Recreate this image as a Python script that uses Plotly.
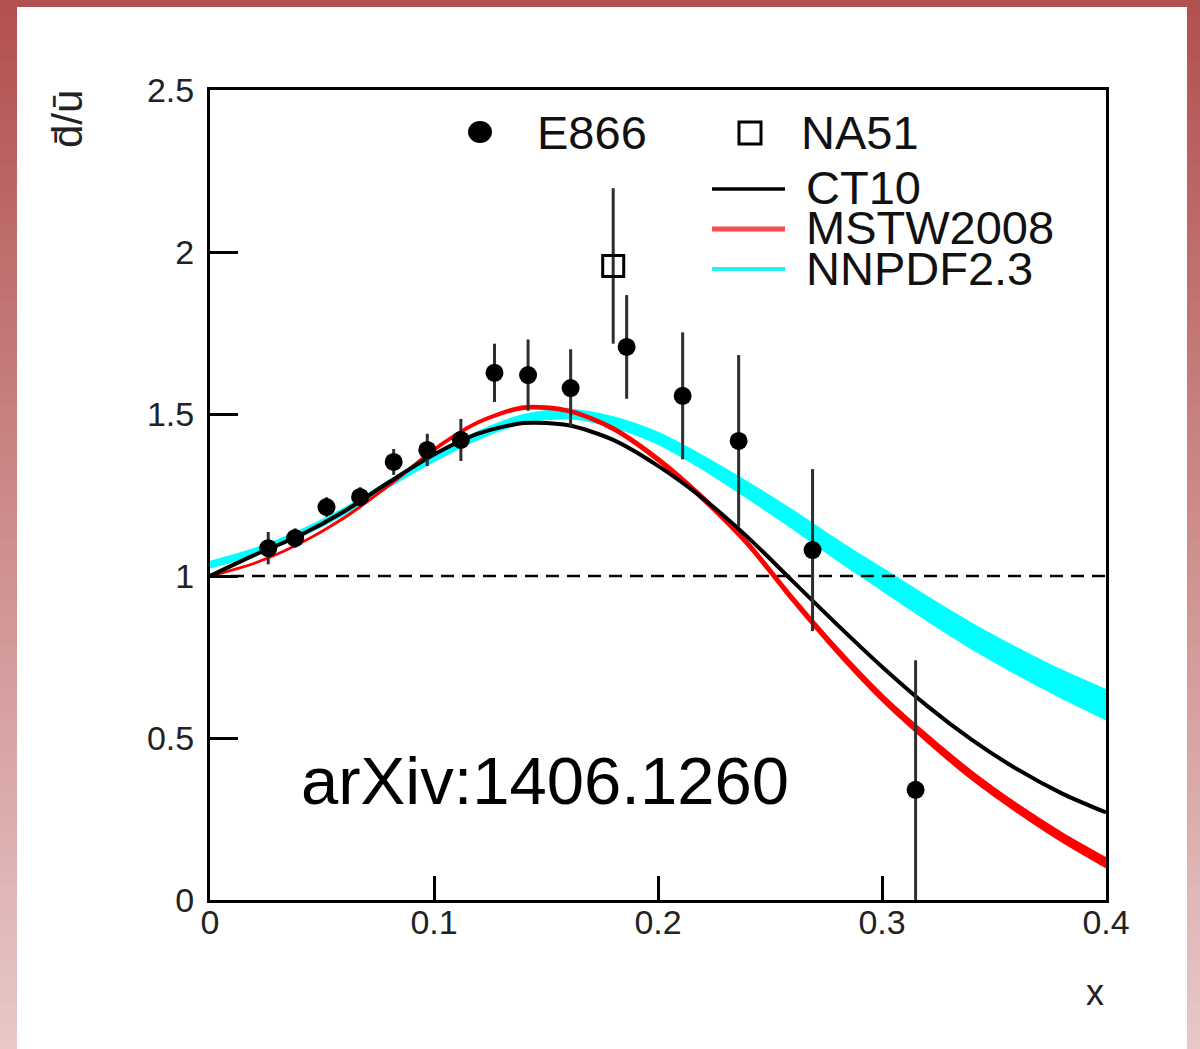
import plotly.graph_objects as go

# ---------------- data ----------------
# E866 measurements of dbar/ubar
e866_x = [0.026, 0.038, 0.052, 0.067, 0.082, 0.097, 0.112, 0.127, 0.142, 0.161, 0.186, 0.211, 0.236, 0.269, 0.315]
e866_y = [1.086, 1.117, 1.213, 1.244, 1.352, 1.389, 1.420, 1.627, 1.620, 1.580, 1.707, 1.556, 1.417, 1.080, 0.340]
e866_err = [0.05, 0.03, 0.03, 0.03, 0.04, 0.05, 0.065, 0.09, 0.11, 0.12, 0.16, 0.196, 0.265, 0.25, 0.40]

# NA51 measurement
na51_x = [0.180]
na51_y = [1.957]
na51_err = [0.24]

# PDF predictions on a common x grid
pdf_x = [0.00, 0.02, 0.04, 0.06, 0.08, 0.10, 0.12, 0.14, 0.16, 0.18, 0.20,
         0.22, 0.24, 0.26, 0.28, 0.30, 0.32, 0.34, 0.36, 0.38, 0.40]
ct10 = [1.000, 1.065, 1.125, 1.200, 1.290, 1.375, 1.440, 1.472, 1.465, 1.420, 1.340,
        1.240, 1.120, 0.985, 0.850, 0.720, 0.600, 0.495, 0.405, 0.330, 0.270]
mstw = [1.000, 1.040, 1.100, 1.180, 1.280, 1.390, 1.475, 1.520, 1.510, 1.455, 1.360,
        1.240, 1.100, 0.930, 0.770, 0.625, 0.500, 0.385, 0.285, 0.195, 0.115]
mstw_unc = [0.002, 0.002, 0.002, 0.003, 0.003, 0.004, 0.004, 0.005, 0.005, 0.006, 0.007,
            0.008, 0.008, 0.009, 0.010, 0.011, 0.012, 0.013, 0.013, 0.014, 0.015]
nnpdf = [1.035, 1.075, 1.130, 1.200, 1.285, 1.365, 1.435, 1.485, 1.500, 1.475, 1.425,
         1.350, 1.265, 1.175, 1.080, 0.990, 0.900, 0.815, 0.738, 0.667, 0.603]
nnpdf_unc = [0.010, 0.010, 0.010, 0.010, 0.010, 0.011, 0.012, 0.013, 0.014, 0.016, 0.018,
             0.021, 0.025, 0.028, 0.031, 0.034, 0.037, 0.039, 0.041, 0.043, 0.046]

x_ticks = [0, 0.1, 0.2, 0.3, 0.4]
x_tick_text = ["0", "0.1", "0.2", "0.3", "0.4"]
y_ticks = [0, 0.5, 1, 1.5, 2, 2.5]
y_tick_text = ["0", "0.5", "1", "1.5", "2", "2.5"]

# ---------------- geometry helpers ----------------
W, H = 1200, 1049
L, R, T, B = 210, 94, 90, 149
PW, PH = W - L - R, H - T - B


def px(xp):
    return (xp - L) / PW


def py(yp):
    return (H - B - yp) / PH


FONT = "Liberation Sans, Arial, Helvetica, sans-serif"

fig = go.Figure()


def band(xs, centre, unc, colour, name):
    upper = [c + u for c, u in zip(centre, unc)]
    lower = [c - u for c, u in zip(centre, unc)]
    fig.add_trace(go.Scatter(x=xs, y=upper, mode="lines",
                             line=dict(color=colour, width=1.5, shape="spline", smoothing=0.8),
                             showlegend=False, hoverinfo="skip", name=name))
    fig.add_trace(go.Scatter(x=xs, y=lower, mode="lines",
                             line=dict(color=colour, width=1.5, shape="spline", smoothing=0.8),
                             fill="tonexty", fillcolor=colour, showlegend=False, name=name))


band(pdf_x, nnpdf, nnpdf_unc, "#00ffff", "NNPDF2.3")
band(pdf_x, mstw, mstw_unc, "#ff0000", "MSTW2008")
fig.add_trace(go.Scatter(x=pdf_x, y=ct10, mode="lines",
                         line=dict(color="#000000", width=4, shape="spline", smoothing=0.8),
                         showlegend=False, name="CT10"))

fig.add_trace(go.Scatter(
    x=e866_x, y=e866_y, mode="markers", name="E866", showlegend=False,
    marker=dict(symbol="circle", size=18, color="black"),
    error_y=dict(type="data", array=e866_err, color="#2e2e2e", thickness=3, width=0),
))
fig.add_trace(go.Scatter(
    x=na51_x, y=na51_y, mode="markers", name="NA51", showlegend=False,
    marker=dict(symbol="square-open", size=21, color="black", line=dict(width=3)),
    error_y=dict(type="data", array=na51_err, color="#2e2e2e", thickness=3, width=0),
))

shapes = []
# page background: vertical red gradient with a white panel
n_strips = 70
top_c = (178, 80, 80)
bot_c = (232, 200, 200)
for i in range(n_strips):
    f = (i + 0.5) / n_strips
    c = tuple(int(round(a + (b - a) * f)) for a, b in zip(top_c, bot_c))
    y0 = H * i / n_strips
    y1 = H * (i + 1) / n_strips + 1
    shapes.append(dict(type="rect", xref="paper", yref="paper", layer="below",
                       x0=px(0), x1=px(W), y0=py(y1), y1=py(y0),
                       fillcolor="rgb(%d,%d,%d)" % c, line=dict(width=0)))
shapes.append(dict(type="rect", xref="paper", yref="paper", layer="below",
                   x0=px(17), x1=px(1187), y0=py(H + 2), y1=py(7),
                   fillcolor="white", line=dict(width=0)))

# reference line at unity
shapes.append(dict(type="line", xref="paper", yref="y", x0=0, x1=1, y0=1, y1=1, layer="above",
                   line=dict(color="black", width=2.5, dash="13px,8px")))

# legend symbols
shapes.append(dict(type="circle", xref="paper", yref="paper", x0=px(468), x1=px(492), y0=py(143), y1=py(121),
                   fillcolor="black", line=dict(color="black", width=0)))
shapes.append(dict(type="rect", xref="paper", yref="paper", x0=px(739), x1=px(761), y0=py(144), y1=py(122),
                   fillcolor="white", line=dict(color="black", width=3)))
for yl, col, wd in [(189, "#000000", 3.5), (229, "#ff4d4d", 5), (269, "#22f2f2", 4)]:
    shapes.append(dict(type="line", xref="paper", yref="paper", x0=px(712), x1=px(785), y0=py(yl), y1=py(yl),
                       line=dict(color=col, width=wd)))

annotations = []
leg_font = dict(family=FONT, size=47, color="#111111")
for txt, xl, yc in [("E866", 535, 133), ("NA51", 799, 133)]:
    annotations.append(dict(text=txt, xref="paper", yref="paper", x=px(xl), y=py(yc), xanchor="left",
                            yanchor="middle", showarrow=False, font=leg_font))
for txt, yc in [("CT10", 187), ("MSTW2008", 227), ("NNPDF2.3", 268)]:
    annotations.append(dict(text=txt, xref="paper", yref="paper", x=px(804), y=py(yc), xanchor="left",
                            yanchor="middle", showarrow=False, font=leg_font))

annotations.append(dict(text="d\u0304/\u016b", xref="paper", yref="paper", x=px(68), y=py(119),
                        textangle=-90, xanchor="center", yanchor="middle", showarrow=False,
                        font=dict(family=FONT, size=42, color="#222222")))
annotations.append(dict(text="x", xref="paper", yref="paper", x=px(1095), y=py(992),
                        xanchor="center", yanchor="middle", showarrow=False,
                        font=dict(family=FONT, size=36, color="#222222")))
annotations.append(dict(text="arXiv:1406.1260", xref="paper", yref="paper", x=px(545), y=py(780),
                        xanchor="center", yanchor="middle", showarrow=False,
                        font=dict(family=FONT, size=67, color="black")))

axis_common = dict(showline=True, linecolor="black", linewidth=3, mirror=True, ticks="inside",
                   tickcolor="black", tickwidth=3, showgrid=False, zeroline=False,
                   tickfont=dict(family=FONT, size=34, color="#222222"))

fig.update_layout(
    width=W, height=H, autosize=False,
    margin=dict(l=L, r=R, t=T, b=B, pad=0),
    paper_bgcolor="white", plot_bgcolor="rgba(0,0,0,0)",
    showlegend=False,
    xaxis=dict(range=[0, 0.4], tickvals=x_ticks, ticktext=x_tick_text, ticklen=24,
               ticklabelstandoff=-10, **axis_common),
    yaxis=dict(range=[0, 2.5], tickvals=y_ticks, ticktext=y_tick_text, ticklen=28,
               ticklabelstandoff=6, **axis_common),
    shapes=shapes,
    annotations=annotations,
)

fig.write_html("out.html")
